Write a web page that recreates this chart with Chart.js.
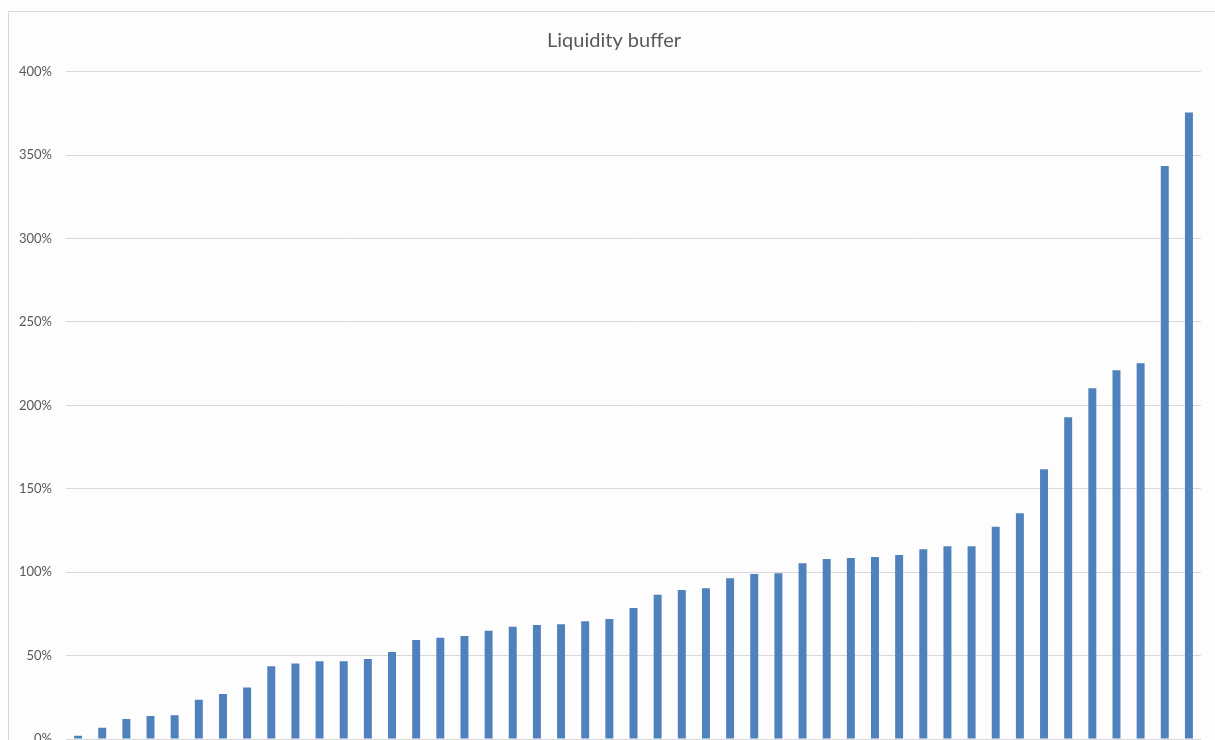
<!DOCTYPE html>
<html>
<head>
<meta charset="utf-8">
<title>Liquidity buffer</title>
<script src="https://cdn.jsdelivr.net/npm/chart.js@4/dist/chart.umd.min.js"></script>
<style>
  html, body { margin: 0; padding: 0; width: 1215px; height: 740px; overflow: hidden; background: #fdfdfd; }
  #frame { position: absolute; left: 8px; top: 11px; width: 1400px; height: 1000px; border: 1px solid #d9d9d9; background: #fdfdfd; }
  #wrap { position: absolute; left: 0; top: 0; width: 1215px; height: 800px; }
</style>
</head>
<body>
<div id="frame"></div>
<div id="wrap"><canvas id="chart" width="1215" height="800"></canvas></div>
<script>
// Liquidity buffer per institution, sorted ascending (percent)
const categories = Array.from({ length: 47 }, (_, i) => 'Bank ' + (i + 1));
const bufferValues = [
  2.0, 6.8, 12.0, 13.8, 14.2, 23.6, 27.0, 30.8, 43.6, 45.2,
  46.6, 46.6, 48.0, 52.2, 59.4, 60.7, 61.8, 64.9, 67.3, 68.3,
  68.8, 70.6, 71.9, 78.5, 86.5, 89.3, 90.3, 96.3, 98.9, 99.3,
  105.3, 107.9, 108.5, 109.1, 110.3, 113.7, 115.5, 115.5, 127.3, 135.3,
  161.7, 192.9, 210.3, 221.0, 225.2, 343.5, 375.5
];
const yTicks = [0, 50, 100, 150, 200, 250, 300, 350, 400];

const textColor = '#595959';
const gridColor = '#d9d9d9';
const fontFamily = 'Lato, "Liberation Sans", sans-serif';

// Centre the title over the frame (axis column + plot) rather than the whole canvas
const titleOffset = {
  id: 'titleOffset',
  afterLayout(chart) {
    const t = chart.titleBlock;
    if (t) { t.left += 13.5; t.right += 13.5; }
  }
};

new Chart(document.getElementById('chart'), {
  type: 'bar',
  data: {
    labels: categories,
    datasets: [{
      label: 'Liquidity buffer',
      data: bufferValues,
      backgroundColor: '#4f81bd',
      borderWidth: 0,
      barPercentage: 0.33,
      categoryPercentage: 1.0
    }]
  },
  plugins: [titleOffset],
  options: {
    responsive: false,
    animation: false,
    devicePixelRatio: 1,
    layout: { padding: { left: 0, right: 14, top: 11, bottom: 61 } },
    plugins: {
      legend: { display: false },
      tooltip: { enabled: false },
      title: {
        display: true,
        text: 'Liquidity buffer',
        color: textColor,
        font: { family: fontFamily, size: 20, weight: 'normal' },
        padding: { top: 17.5, bottom: 19.2 }
      }
    },
    scales: {
      x: { display: false },
      y: {
        min: 0,
        max: 400,
        afterFit: (scale) => { scale.width = 66; },
        afterBuildTicks: (scale) => { scale.ticks = yTicks.map(v => ({ value: v })); },
        border: { display: false },
        grid: { color: gridColor, lineWidth: 1, drawTicks: false },
        ticks: {
          padding: 14,
          color: textColor,
          font: { family: fontFamily, size: 13 },
          callback: (v) => v + '%'
        }
      }
    }
  }
});
</script>
</body>
</html>
